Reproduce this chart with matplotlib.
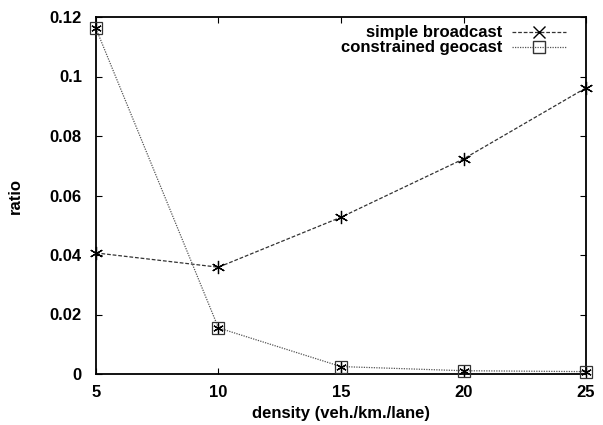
import matplotlib.pyplot as plt
from matplotlib.lines import Line2D

plt.rcParams["font.family"] = ["Liberation Sans", "DejaVu Sans"]
plt.rcParams["font.weight"] = "bold"

density = [5, 10, 15, 20, 25]
simple_broadcast = [0.0407, 0.0359, 0.0527, 0.0723, 0.0962]
constrained_geocast = [0.1162, 0.0155, 0.0025, 0.0011, 0.0008]

x_ticks = [5, 10, 15, 20, 25]
y_ticks = [0, 0.02, 0.04, 0.06, 0.08, 0.1, 0.12]
y_labels = ["0", "0.02", "0.04", "0.06", "0.08", "0.1", "0.12"]

star = (6, 2, 0)  # asterisk like gnuplot's point type 3

fig = plt.figure(figsize=(6.03, 4.25), dpi=100)
ax = fig.add_axes([0.159, 0.12, 0.813, 0.84])

# simple broadcast: dashed line with asterisks
ax.plot(density, simple_broadcast, color="#333333", linestyle=(0, (3, 1.5)),
        linewidth=0.9, marker=star, markersize=9.5, markeredgewidth=0.9,
        markeredgecolor="black", clip_on=False, zorder=3)

# constrained geocast: dotted line with squares (asterisk inside)
ax.plot(density, constrained_geocast, color="#555555", linestyle=(0, (1, 1)),
        linewidth=0.9, marker="s", markersize=8, markerfacecolor="none",
        markeredgewidth=0.9, markeredgecolor="#333333", clip_on=False, zorder=3)
ax.plot(density, constrained_geocast, linestyle="none", marker=star,
        markersize=7.5, markeredgewidth=0.9, markeredgecolor="black",
        clip_on=False, zorder=4)

ax.set_xlim(5, 25)
ax.set_ylim(0, 0.12)
ax.set_xticks(x_ticks)
ax.set_yticks(y_ticks)
ax.set_yticklabels(y_labels)
ax.tick_params(direction="in", length=4, width=0.8, top=True, right=True,
               labelsize=12)
ax.tick_params(axis="x", pad=8)
ax.tick_params(axis="y", pad=10)
for s in ax.spines.values():
    s.set_linewidth(1.3)

ax.set_xlabel("density (veh./km./lane)", fontsize=12, fontweight="bold", labelpad=4)
ax.set_ylabel("ratio", fontsize=12, fontweight="bold", labelpad=19)

handles = [
    Line2D([], [], color="#333333", linestyle=(0, (3, 1.5)), linewidth=0.9,
           marker="x", markersize=9, markeredgecolor="black"),
    Line2D([], [], color="#555555", linestyle=(0, (1, 1)), linewidth=0.9,
           marker="s", markersize=8, markerfacecolor="none",
           markeredgecolor="#333333"),
]
ax.legend(handles, ["simple broadcast", "constrained geocast"], loc="upper right",
          frameon=False, markerfirst=False, fontsize=12, handlelength=3.2,
          handletextpad=0.6, labelspacing=0.0, borderaxespad=0.0,
          bbox_to_anchor=(0.972, 0.995))

fig.savefig("out.png", dpi=100)
